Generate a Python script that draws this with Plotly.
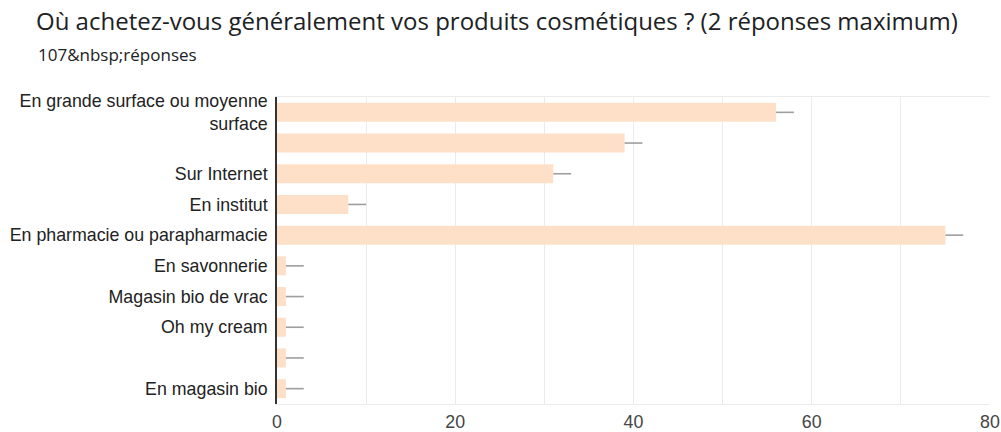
import plotly.graph_objects as go

categories = [
    "En grande surface ou moyenne<br>surface",
    "",
    "Sur Internet",
    "En institut",
    "En pharmacie ou parapharmacie",
    "En savonnerie",
    "Magasin bio de vrac",
    "Oh my cream",
    "",
    "En magasin bio",
]
values = [56, 39, 31, 8, 75, 1, 1, 1, 1, 1]
error_plus = [2, 2, 2, 2, 2, 2, 2, 2, 2, 2]
x_ticks = [0, 20, 40, 60, 80]

positions = list(range(len(categories)))

fig = go.Figure()
fig.add_trace(go.Bar(
    x=values,
    y=positions,
    orientation="h",
    marker=dict(color="#fee0c9", line=dict(width=0)),
    error_x=dict(type="data", array=error_plus, arrayminus=[0] * len(values),
                 symmetric=False, color="#9e9e9e", thickness=1.6, width=0),
    width=0.62,
    hoverinfo="x+y",
))

W, H = 1001, 432
L, R, T, B = 277, 11, 97, 28
pw = W - L - R
ph = H - T - B

fig.update_layout(
    width=W, height=H,
    margin=dict(l=L, r=R, t=T, b=B, pad=0),
    paper_bgcolor="white",
    plot_bgcolor="white",
    showlegend=False,
    title=dict(
        text="Où achetez-vous généralement vos produits cosmétiques ? (2 réponses maximum)",
        font=dict(family="Open Sans", size=24, color="#202124"),
        x=36 / W, xanchor="left", xref="container",
        y=1 - 22 / H, yanchor="middle", yref="container",
        pad=dict(l=0, r=0, t=0, b=0),
    ),
    annotations=[dict(
        text="107&amp;nbsp;réponses",
        xref="paper", yref="paper",
        x=(36 - L) / pw, y=(H - B - 55) / ph,
        xanchor="left", yanchor="middle",
        showarrow=False,
        font=dict(family="Open Sans", size=17, color="#202124"),
    )],
    xaxis=dict(
        range=[0, 80],
        tickvals=x_ticks,
        showgrid=True, gridcolor="#ebebeb", gridwidth=1,
        zeroline=False,
        showline=True, linecolor="#ebebeb", mirror=True,
        tickfont=dict(family="Liberation Sans, Arial", size=17.8, color="#444444"),
        ticks="", ticklabelstandoff=2,
        automargin=False,
        fixedrange=True,
    ),
    yaxis=dict(
        tickvals=positions,
        ticktext=categories,
        range=[len(categories) - 0.5, -0.5],
        showgrid=False, zeroline=False,
        showline=True, linecolor="#333333", linewidth=1.5,
        tickfont=dict(family="Liberation Sans, Arial", size=17.8, color="#222222"),
        ticks="", ticklabelstandoff=4,
        automargin=False,
        fixedrange=True,
    ),
)

fig.update_xaxes(minor=dict(dtick=10, showgrid=True, gridcolor="#ebebeb", tick0=0))

fig.write_html("out.html", config={"displayModeBar": False},
               post_script="document.body.style.margin='0px';")
